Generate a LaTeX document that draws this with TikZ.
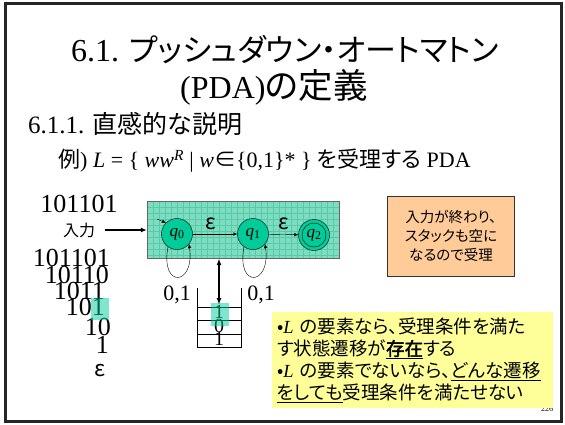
\documentclass[tikz,border=0pt]{standalone}
\usepackage{fontspec}
\setmainfont{Liberation Serif}
\newfontfamily\jp{Noto Sans CJK JP}[RawFeature=+palt, AutoFakeBold=2]
\usetikzlibrary{arrows.meta, positioning}

\definecolor{stategreen}{RGB}{0,204,153}
\definecolor{boxteal}{RGB}{128,220,192}
\definecolor{gridteal}{RGB}{84,204,170}
\definecolor{notepeach}{RGB}{255,204,153}
\definecolor{noteyellow}{RGB}{255,255,153}

\tikzset{
  state/.style={circle, draw, fill=stategreen, minimum size=31pt, inner sep=0pt, font=\fontsize{17}{17}\selectfont},
  trans/.style={-{Latex[length=4pt,width=3.5pt]}, thin},
  digits/.style={font=\fontsize{26}{26}\selectfont, inner sep=0pt},
  gridline/.style={gridteal, line width=0.4pt},
  hilite/.style={fill=stategreen, fill opacity=0.5},
}

\begin{document}
\begin{tikzpicture}[x=1pt, y=-1pt]
\useasboundingbox (0,0) rectangle (565,424);
% slide frame
\draw[line width=2.5pt, black!85] (5.5,3.5) rectangle (561.5,421.5);

% headings
\node[font=\fontsize{32}{32}\selectfont] (title) at (285,50) {6.1. {\jp\fontsize{31}{31}\selectfont プッシュダウン・オートマトン}};
\node[font=\fontsize{32}{32}\selectfont] (title2) at (274,87) {(PDA){\jp\fontsize{34.5}{34.5}\selectfont の定義}};
\node[anchor=west, inner sep=0pt, font=\fontsize{25}{25}\selectfont] (subtitle) at (28,124) {6.1.1. {\jp 直感的な説明}};
\node[anchor=west, inner sep=0pt, font=\fontsize{22}{22}\selectfont] (example) at (58,161)
  {{\jp 例}) \textit{L} = \{ \textit{ww}\textsuperscript{\textit{R}} | \textit{w}{\jp ∈}\{0,1\}* \} {\jp を受理する} PDA};

% input tape
\node[digits] (inword) at (79,204) {101101};
\node[font=\jp\fontsize{16}{16}\selectfont] (inlabel) at (79,230) {入力};

% the automaton box
\node[draw=black!60, fill=boxteal, minimum width=192pt, minimum height=57pt, inner sep=0pt] (pdabox) at (243,229.5) {};
\foreach \gx in {153,159,...,336} \draw[gridline] (\gx,201) -- (\gx,258);
\foreach \gy in {207,213,...,255} \draw[gridline] (147,\gy) -- (339,\gy);
\draw[draw=black!60] (pdabox.north west) rectangle (pdabox.south east);
\draw[-{Latex[length=6pt,width=5pt]}, line width=1.2pt] ([xshift=6pt]inlabel.east) -- (inlabel.east -| pdabox.west);

\node[state] (q0) at (177,234) {{\itshape q}\textsubscript{0}};
\node[state] (q1) at (253,234) {{\itshape q}\textsubscript{1}};
\node[state] (q2) at (314,235) {};
\node[circle, draw, minimum size=24pt, inner sep=0pt, font=\fontsize{17}{17}\selectfont] (q2in) at (q2) {{\itshape q}\textsubscript{2}};

\coordinate (start) at (157,219);
\draw[trans] (start) -- (q0.135);
\draw[trans] (q0) -- node[pos=0.4, above=1pt, font=\jp\fontsize{21}{21}\selectfont] (eps1) {ε} (q1);
\draw[trans] (q1) -- node[pos=0.5, above=1pt, font=\jp\fontsize{21}{21}\selectfont] (eps2) {ε} (q2);
\draw[trans] (q0.235) .. controls +(-8,42) and +(6,42) .. (q0.-40);
\draw[trans] (q1.235) .. controls +(-8,42) and +(6,42) .. (q1.-40);
\node[font=\fontsize{22}{22}\selectfont] (loopa) at (177,295) {0,1};
\node[font=\fontsize{22}{22}\selectfont] (loopb) at (261,295) {0,1};

% stack
\coordinate (stacktop) at (219,305);
\draw (197,288) -- (197,347) -- (241,347) -- (241,288);
\foreach \sy in {307.5,320.5,334} \draw (197,\sy) -- (241,\sy);
\node[font=\fontsize{20}{20}\selectfont, inner sep=0pt] (stk1) at (219,311.5) {1};
\node[font=\fontsize{20}{20}\selectfont, inner sep=0pt] (stk2) at (219,325.5) {0};
\node[font=\fontsize{20}{20}\selectfont, inner sep=0pt] (stk3) at (219,339) {1};
\fill[hilite] (210.5,302.5) rectangle (229,325.5);
\draw[{Latex[length=7pt,width=5pt]}-{Latex[length=7pt,width=5pt]}, line width=1.4pt] (pdabox.south -| stacktop) -- (stacktop);

% what is left of the input
\foreach \word/\rx/\ry [count=\i] in {101101/110/258, 10110/109/275, 1011/105/291, 101/105/307, 10/111/327, 1/109/345}
  \node[digits, anchor=east] (tape\i) at (\rx,\ry) {\word};
\node[font=\jp\fontsize{22}{22}\selectfont] (tapeeps) at (100,371) {ε};
\fill[hilite] (91,298) rectangle (109,320);

% notes
\node[draw=black!80, fill=notepeach, minimum width=127pt, minimum height=80pt, align=center,
  font=\jp\fontsize{14.5}{19}\selectfont] (endnote) at (451,236) {入力が終わり、\\スタックも空に\\なるので受理};
\node[font=\fontsize{8}{8}\selectfont, inner sep=0pt] (pagenum) at (547,409) {226};
\node[fill=noteyellow, anchor=north west, text width=271pt, minimum height=96pt, inner sep=5pt, align=left,
  font=\jp\fontsize{18.5}{22}\selectfont] (lnote) at (272,312)
  {•{\rmfamily\itshape L} の要素なら、受理条件を満た\\
   す状態遷移が\underline{\textbf{存在}}する\\
   •{\rmfamily\itshape L} の要素でないなら、\underline{どんな遷移}\\
   \underline{をしても}受理条件を満たせない};
\end{tikzpicture}
\end{document}
